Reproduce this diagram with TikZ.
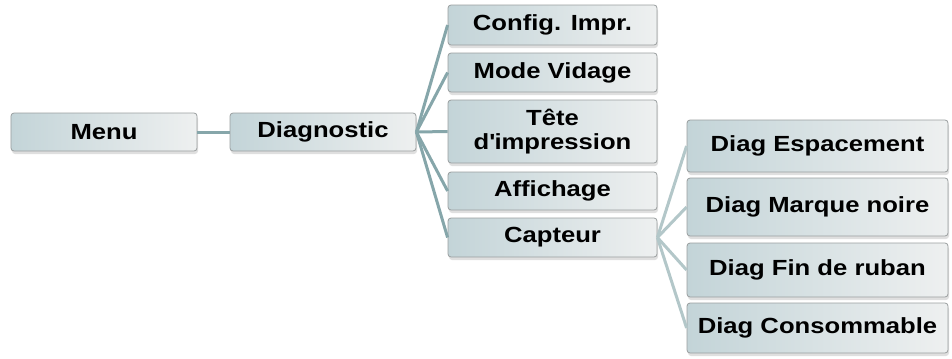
\documentclass[tikz,border=0pt]{standalone}
\usepackage{fontspec}
\setmainfont[FakeStretch=1.17]{Liberation Sans}
\usetikzlibrary{shadows}
\definecolor{boxleft}{HTML}{C3D4D8}
\definecolor{boxright}{HTML}{EEF0F0}
\definecolor{boxline}{HTML}{9A9E9F}
\definecolor{linkdark}{HTML}{86A6AA}
\definecolor{linklight}{HTML}{B3C7C9}
\tikzset{
    menubox/.style={rectangle, rounded corners=3bp, draw=boxline, line width=0.8bp,
        left color=boxleft, right color=boxright, align=center, inner sep=0pt,
        font=\fontsize{22}{24}\selectfont\bfseries,
        drop shadow={shadow xshift=1bp, shadow yshift=-3bp, opacity=0.25}},
    link/.style={line width=3bp, draw=linkdark},
    sublink/.style={line width=3bp, draw=linklight},
}
\begin{document}
\begin{tikzpicture}[x=1bp, y=-1bp]
    \useasboundingbox (0,0) rectangle (952,358);

    % 第一层
    \node[menubox, minimum width=186bp, minimum height=38bp] (menu) at (104,132) {Menu};
    \node[menubox, minimum width=186bp, minimum height=38bp] (diag) at (323,132) {Diagnostic};

    % 第二层
    \node[menubox, minimum width=209bp, minimum height=40bp] (config) at (552.5,25) {Config. Impr.};
    \node[menubox, minimum width=209bp, minimum height=39bp] (vidage) at (552.5,72.5) {Mode Vidage};
    \node[menubox, minimum width=209bp, minimum height=63bp] (tete) at (552.5,131.5) {Tête\\d\textquotesingle impression};
    \node[menubox, minimum width=209bp, minimum height=38bp] (affichage) at (552.5,191) {Affichage};
    \node[menubox, minimum width=209bp, minimum height=39bp] (capteur) at (552.5,237.5) {Capteur};

    % 第三层
    \node[menubox, minimum width=261bp, minimum height=52bp] (espacement) at (817.5,146) {Diag Espacement};
    \node[menubox, minimum width=261bp, minimum height=58bp] (marque) at (817.5,207) {Diag Marque noire};
    \node[menubox, minimum width=261bp, minimum height=54bp] (ruban) at (817.5,270) {Diag Fin de ruban};
    \node[menubox, minimum width=261bp, minimum height=50bp] (conso) at (817.5,328) {Diag Consommable};

    % 连线
    \draw[link] (menu.east) -- (diag.west);
    \foreach \child in {config, vidage, tete, affichage, capteur}
        \draw[link] (diag.east) -- (\child.west);
    \foreach \child in {espacement, marque, ruban, conso}
        \draw[sublink] (capteur.east) -- (\child.west);
\end{tikzpicture}
\end{document}
